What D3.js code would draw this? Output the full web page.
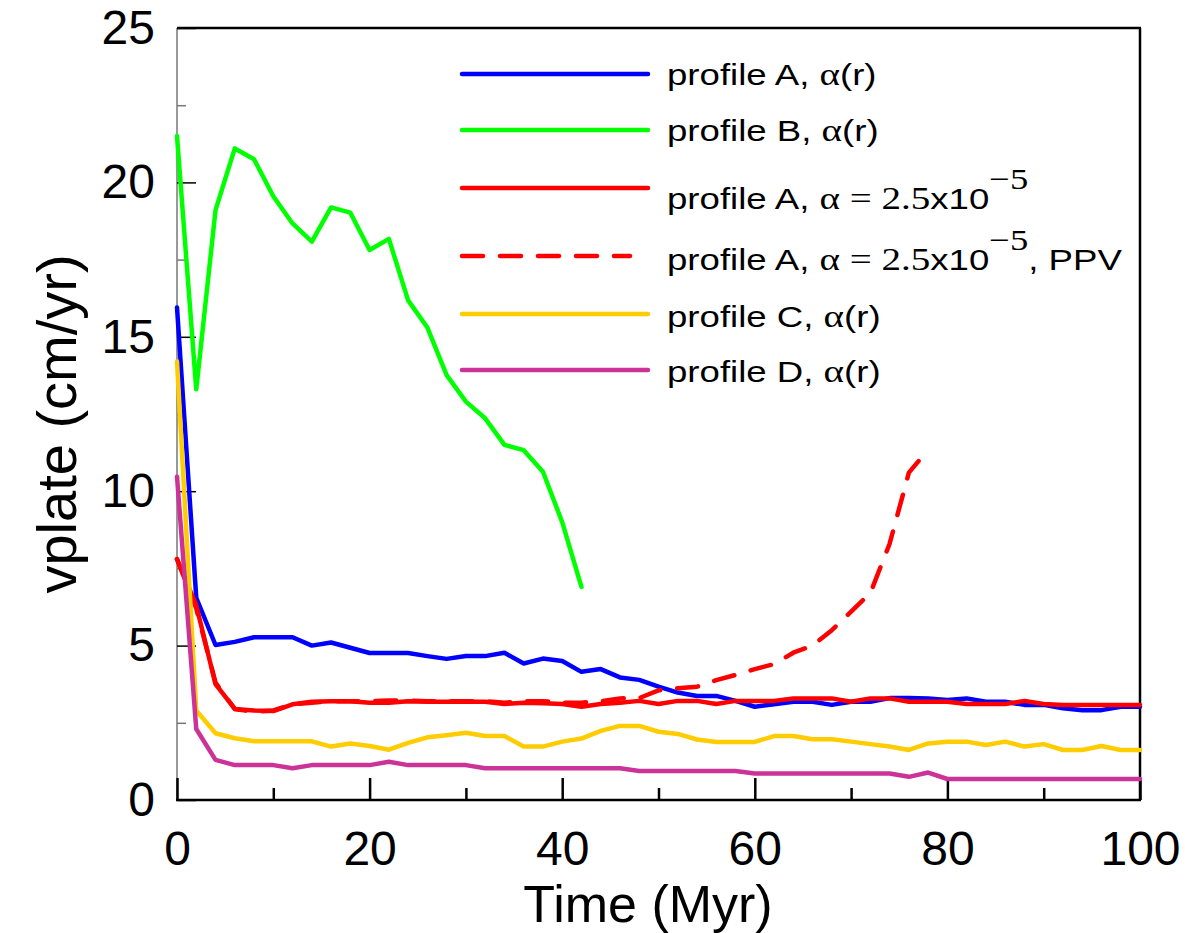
<!DOCTYPE html>
<html><head><meta charset="utf-8">
<script src="https://cdn.jsdelivr.net/npm/d3@7"></script>
<style>body{margin:0;background:#fff}svg{display:block}</style>
</head><body>
<svg id="chart" width="1185" height="933"></svg>
<script>
// ---- data ----
const tStep2 = d3.range(0, 101, 2);
const tGreen = d3.range(0, 43, 2);
const greenB = [21.5,13.3,19.1,21.1,20.75,19.55,18.67,18.08,19.19,19.02,17.81,18.17,16.18,15.3,13.76,12.9,12.36,11.5,11.33,10.63,9.0,6.9];
const blueA = [15.95,6.55,5.02,5.12,5.27,5.27,5.27,5.0,5.1,4.93,4.76,4.76,4.76,4.66,4.57,4.66,4.66,4.77,4.42,4.58,4.5,4.15,4.24,3.97,3.89,3.67,3.48,3.37,3.37,3.21,3.02,3.1,3.18,3.18,3.08,3.18,3.18,3.3,3.3,3.29,3.24,3.29,3.18,3.18,3.08,3.08,2.97,2.91,2.91,3.02,3.02];
const redA = [7.8,6.3,3.75,2.95,2.9,2.88,3.1,3.18,3.2,3.2,3.15,3.15,3.2,3.18,3.18,3.18,3.18,3.11,3.15,3.13,3.11,3.02,3.11,3.15,3.21,3.11,3.21,3.21,3.11,3.21,3.21,3.21,3.29,3.29,3.29,3.18,3.29,3.29,3.18,3.18,3.18,3.11,3.11,3.11,3.21,3.11,3.08,3.08,3.08,3.08,3.08];
const tPPV = d3.range(0, 79, 2);
const redPPV = [7.8,6.2,3.8,2.95,2.85,2.9,3.1,3.15,3.2,3.2,3.2,3.22,3.22,3.2,3.2,3.2,3.2,3.15,3.2,3.2,3.15,3.15,3.2,3.29,3.3,3.55,3.62,3.67,3.88,4.05,4.24,4.4,4.77,5.0,5.5,6.1,6.7,8.3,10.6,11.35];
const yellowC = [14.2,2.9,2.16,2.0,1.9,1.9,1.9,1.9,1.73,1.83,1.75,1.63,1.85,2.03,2.1,2.18,2.07,2.07,1.73,1.73,1.89,1.99,2.24,2.4,2.4,2.21,2.14,1.96,1.88,1.88,1.88,2.07,2.07,1.97,1.97,1.89,1.81,1.73,1.62,1.83,1.89,1.89,1.78,1.89,1.73,1.81,1.62,1.62,1.75,1.62,1.62];
const magentaD = [10.47,2.3,1.3,1.13,1.13,1.13,1.03,1.13,1.13,1.13,1.13,1.24,1.13,1.13,1.13,1.13,1.03,1.03,1.03,1.03,1.03,1.03,1.03,1.03,0.94,0.94,0.94,0.94,0.94,0.94,0.86,0.86,0.86,0.86,0.86,0.86,0.86,0.86,0.75,0.89,0.68,0.68,0.68,0.68,0.68,0.68,0.68,0.68,0.68,0.68,0.68];
const xMajorTicks = [0,20,40,60,80,100];
const xMinorTicks = [10,30,50,70,90];
const yMajorTicks = [0,5,10,15,20,25];
const yMinorTicks = [2.5,7.5,12.5,17.5,22.5];

const series = [
  {t: tStep2, v: blueA,   color: "#0000ff", dash: null},
  {t: tGreen, v: greenB,  color: "#00ff00", dash: null},
  {t: tStep2, v: redA,    color: "#ff0000", dash: null},
  {t: tPPV,   v: redPPV,  color: "#ff0000", dash: "21,17"},
  {t: tStep2, v: yellowC, color: "#ffcc00", dash: null},
  {t: tStep2, v: magentaD,color: "#cc3399", dash: null}
];
const legendItems = [
  {color:"#0000ff", dash:null, parts:[["profile A, ","s"],["α","g"],["(r)","s"]]},
  {color:"#00ff00", dash:null, parts:[["profile B, ","s"],["α","g"],["(r)","s"]]},
  {color:"#ff0000", dash:null, parts:[["profile A, ","s"],["α = 2.5","g"],["x10","s"],["−5","sup"]]},
  {color:"#ff0000", dash:"21,17", parts:[["profile A, ","s"],["α = 2.5","g"],["x10","s"],["−5","sup"],[", PPV","s"]]},
  {color:"#ffcc00", dash:null, parts:[["profile C, ","s"],["α","g"],["(r)","s"]]},
  {color:"#cc3399", dash:null, parts:[["profile D, ","s"],["α","g"],["(r)","s"]]}
];
const legendLineY = [74,130,188,256,314,370];
const legendTextY = [85,141,209,270,327,382];

// ---- chart ----
const svg = d3.select("#chart");
svg.append("rect").attr("width",1185).attr("height",933).attr("fill","#fff");
const L = 177, R = 1140, T = 28, B = 800;
const x = d3.scaleLinear().domain([0,100]).range([L,R]);
const y = d3.scaleLinear().domain([0,25]).range([B,T]);
const sans = "'Liberation Sans', Arial, sans-serif";
const serif = "'Liberation Serif', 'Times New Roman', serif";

// frame
svg.append("line").attr("x1",L).attr("x2",L).attr("y1",T).attr("y2",B).attr("stroke","#777").attr("stroke-width",1.5);
svg.append("line").attr("x1",L).attr("x2",R+1).attr("y1",T).attr("y2",T).attr("stroke","#000").attr("stroke-width",2.5);
svg.append("line").attr("x1",R).attr("x2",R).attr("y1",T).attr("y2",B).attr("stroke","#000").attr("stroke-width",2.5);

// y axis
const yMinor = svg.append("g").attr("transform",`translate(${L},0)`)
  .call(d3.axisLeft(y).tickValues(yMinorTicks).tickSizeInner(-9).tickSizeOuter(0).tickFormat(""));
yMinor.select(".domain").remove();
yMinor.selectAll("line").attr("stroke","#777").attr("stroke-width",1.5);
const yMajor = svg.append("g").attr("transform",`translate(${L},0)`)
  .call(d3.axisLeft(y).tickValues(yMajorTicks).tickSizeInner(-19).tickSizeOuter(0).tickPadding(22).tickFormat(d3.format("d")));
yMajor.select(".domain").remove();
yMajor.selectAll("line").attr("stroke","#000").attr("stroke-width",1.5);
yMajor.selectAll("text").attr("font-family",sans).attr("font-size",48).attr("fill","#000");

// x axis
const xMinor = svg.append("g").attr("transform",`translate(0,${B})`)
  .call(d3.axisBottom(x).tickValues(xMinorTicks).tickSizeInner(-12).tickSizeOuter(0).tickFormat(""));
xMinor.select(".domain").remove();
xMinor.selectAll("line").attr("stroke","#000").attr("stroke-width",2.5);
const xMajor = svg.append("g").attr("transform",`translate(0,${B})`)
  .call(d3.axisBottom(x).tickValues(xMajorTicks).tickSizeInner(-22).tickSizeOuter(0).tickPadding(31).tickFormat(d3.format("d")));
xMajor.select(".domain").remove();
xMajor.selectAll("line").attr("stroke","#000").attr("stroke-width",2.5);
xMajor.selectAll("text").attr("font-family",sans).attr("font-size",48).attr("fill","#000");
svg.append("line").attr("x1",L-1).attr("x2",R+1).attr("y1",B).attr("y2",B).attr("stroke","#000").attr("stroke-width",2.5);

// axis titles
svg.append("text").attr("x",648).attr("y",922).attr("text-anchor","middle")
  .attr("font-family",sans).attr("font-size",52).attr("fill","#000").text("Time (Myr)");
svg.append("text").attr("transform","translate(76,424) rotate(-90)").attr("text-anchor","middle")
  .attr("font-family",sans).attr("font-size",56).attr("fill","#000").text("vplate (cm/yr)");

// series
const lineGen = d3.line().x(d=>x(d[0])).y(d=>y(d[1]));
series.forEach(s => {
  const pts = s.t.map((t,i)=>[t, s.v[i]]);
  const p = svg.append("path").datum(pts).attr("d",lineGen)
    .attr("fill","none").attr("stroke",s.color).attr("stroke-width",4.5)
    .attr("stroke-linejoin","round").attr("stroke-linecap","round");
  if (s.dash) p.attr("stroke-dasharray",s.dash);
});

// legend
const lg = svg.append("g");
legendItems.forEach((it,i) => {
  const ln = lg.append("line").attr("x1",462).attr("x2",648).attr("y1",legendLineY[i]).attr("y2",legendLineY[i])
    .attr("stroke",it.color).attr("stroke-width",4.5).attr("stroke-linecap","round");
  if (it.dash) ln.attr("stroke-dasharray",it.dash).attr("x2",630);
  const tx = lg.append("text").attr("transform",`translate(667,${legendTextY[i]}) scale(1.22,1)`)
    .attr("font-size",30).attr("fill","#000");
  let after = false;
  it.parts.forEach(p => {
    const ts = tx.append("tspan").text(p[0]);
    if (p[1]==="s") ts.attr("font-family",sans);
    else if (p[1]==="g") ts.attr("font-family",serif).attr("font-size",32);
    else if (p[1]==="sup") ts.attr("font-family",serif).attr("font-size",30).attr("dy",-20);
    if (after) { ts.attr("dy",20); after = false; }
    if (p[1]==="sup") after = true;
  });
});
</script>
</body></html>
